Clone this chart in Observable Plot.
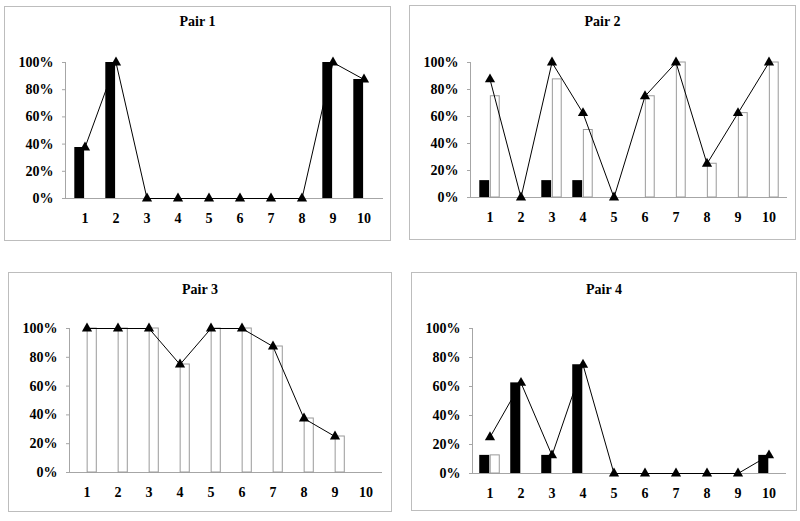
<!DOCTYPE html>
<html>
<head>
<meta charset="utf-8">
<script src="https://cdn.jsdelivr.net/npm/d3@7"></script>
<script src="https://cdn.jsdelivr.net/npm/@observablehq/plot@0.6"></script>
<style>
  body { margin: 0; background: #fff; }
  #root { position: relative; width: 800px; height: 521px; overflow: hidden; }
  .panel { position: absolute; box-sizing: border-box; border: 1px solid #bdbdbd; background: #fff; }
  .panel svg { position: absolute; left: 0; top: 0; }
  .title { position: absolute; left: 0; right: 0; text-align: center;
           font-family: "Liberation Serif", "Times New Roman", serif; font-weight: bold; font-size: 14px;
           line-height: 14px; color: #000; }
</style>
</head>
<body>
<div id="root"></div>
<script>
// ---- data (percent values) ----
const categories = [1, 2, 3, 4, 5, 6, 7, 8, 9, 10];
const yTicks = [0, 20, 40, 60, 80, 100];
const titles = ["Pair 1", "Pair 2", "Pair 3", "Pair 4"];

const pair1Black = [37.5, 100, 0, 0, 0, 0, 0, 0, 100, 87.5];
const pair1White = [0, 0, 0, 0, 0, 0, 0, 0, 0, 0];
const pair1Line  = [37.5, 100, 0, 0, 0, 0, 0, 0, 100, 87.5];

const pair2Black = [12.5, 0, 12.5, 12.5, 0, 0, 0, 0, 0, 0];
const pair2White = [75, 0, 87.5, 50, 0, 75, 100, 25, 62.5, 100];
const pair2Line  = [87.5, 0, 100, 62.5, 0, 75, 100, 25, 62.5, 100];

const pair3Black = [0, 0, 0, 0, 0, 0, 0, 0, 0, 0];
const pair3White = [100, 100, 100, 75, 100, 100, 87.5, 37.5, 25, 0];
const pair3Line  = [100, 100, 100, 75, 100, 100, 87.5, 37.5, 25, null];

const pair4Black = [12.5, 62.5, 12.5, 75, 0, 0, 0, 0, 0, 12.5];
const pair4White = [12.5, 0, 0, 0, 0, 0, 0, 0, 0, 0];
const pair4Line  = [25, 62.5, 12.5, 75, 0, 0, 0, 0, 0, 12.5];

const series = [
  [pair1Black, pair1White, pair1Line],
  [pair2Black, pair2White, pair2Line],
  [pair3Black, pair3White, pair3Line],
  [pair4Black, pair4White, pair4Line]
];

// ---- layout (page pixels): panel box and plot area ----
const layout = [
  {box: [4, 6, 391, 241],   plot: [65, 383, 62, 198],  titleY: 22},
  {box: [409, 5, 796, 240], plot: [470, 787, 62, 197], titleY: 22},
  {box: [8, 272, 392, 512], plot: [69, 382, 328, 472], titleY: 290},
  {box: [411, 272, 797, 511], plot: [472, 786, 328, 473], titleY: 290}
];

const root = document.getElementById("root");

layout.forEach((L, i) => {
  const [bl, bt, br, bb] = L.box;
  const [x0, x1, yTop, yBot] = L.plot;
  const width = br - bl - 2, height = bb - bt - 2;
  const marginLeft = x0 - bl - 1, marginRight = br - 1 - x1;
  const marginTop = yTop - bt - 1, marginBottom = bb - 1 - yBot;
  const bw = (x1 - x0) / categories.length;
  const barW = bw / 3;

  const [blk, wht, ln] = series[i];
  const rows = categories.map((c, k) => ({c, black: blk[k], white: wht[k], line: ln[k]}));

  const panel = document.createElement("div");
  panel.className = "panel";
  Object.assign(panel.style, {left: bl + "px", top: bt + "px", width: (br - bl) + "px", height: (bb - bt) + "px"});

  const chart = Plot.plot({
    width, height, marginLeft, marginRight, marginTop, marginBottom,
    style: {fontFamily: '"Liberation Serif", "Times New Roman", serif', fontWeight: "bold", fontSize: "14px",
            color: "#000", background: "transparent"},
    x: {type: "band", domain: categories, padding: 0, label: null},
    y: {domain: [0, 100], label: null},
    marks: [
      Plot.frame({anchor: "left", stroke: "#a6a6a6"}),
      Plot.ruleY([0], {stroke: "#a6a6a6"}),
      Plot.axisY({ticks: yTicks, tickSize: 3, tickPadding: 9, stroke: "#a6a6a6", fill: "#000",
                  tickFormat: d => d + "%", label: null}),
      Plot.axisX({tickSize: 0, tickPadding: 15, fill: "#000", label: null}),
      Plot.barY(rows.filter(d => d.black > 0), {x: "c", y: "black", fill: "#000",
                insetLeft: bw / 2 - barW, insetRight: bw / 2}),
      Plot.barY(rows.filter(d => d.white > 0), {x: "c", y: "white", fill: "#fff", stroke: "#9a9a9a", strokeWidth: 1,
                insetLeft: bw / 2 + 0.5, insetRight: bw / 2 - barW + 0.5}),
      Plot.line(rows, {x: "c", y: "line", stroke: "#000", strokeWidth: 1}),
      Plot.dot(rows.filter(d => d.line != null), {x: "c", y: "line", symbol: "triangle", fill: "#000", r: 3.8})
    ]
  });
  panel.appendChild(chart);

  const t = document.createElement("div");
  t.className = "title";
  t.textContent = titles[i];
  t.style.top = (L.titleY - bt - 1 - 7.3) + "px";
  panel.appendChild(t);

  root.appendChild(panel);
});
</script>
</body>
</html>
